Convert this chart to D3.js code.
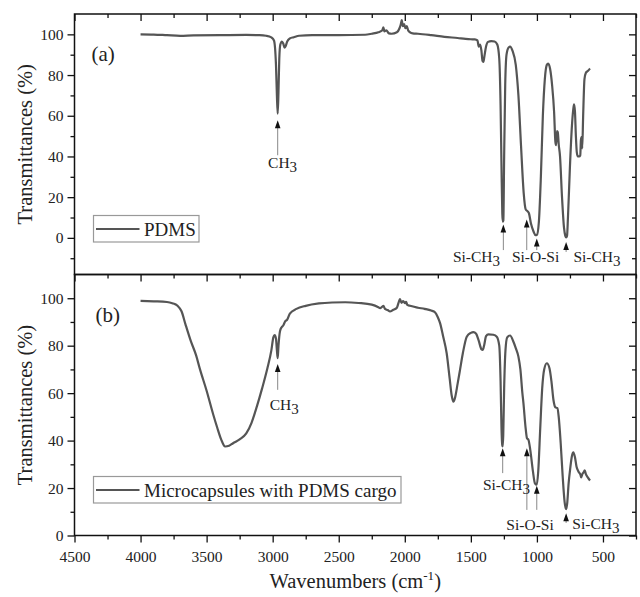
<!DOCTYPE html>
<html>
<head>
<meta charset="utf-8">
<script src="https://cdn.jsdelivr.net/npm/d3@7"></script>
<style>
  html, body { margin: 0; padding: 0; background: #fff; }
  svg { display: block; font-family: "Liberation Serif", "Times New Roman", serif; }
</style>
</head>
<body>
<svg id="chart" width="640" height="597"></svg>
<script>
// ---- FTIR spectrum data (wavenumber in cm^-1, transmittance in %) ----
const pdmsWave = [4000,3900,3800,3700,3600,3400,3200,3100,3050,3010,2990,2975,2968,2962,2956,2950,2942,2930,2920,2910,2903,2890,2870,2840,2800,2700,2500,2300,2250,2200,2170,2162,2155,2140,2120,2100,2060,2040,2030,2023,2015,2005,1995,1985,1975,1960,1940,1900,1800,1700,1600,1540,1500,1470,1450,1440,1430,1420,1412,1405,1398,1385,1370,1345,1320,1300,1285,1275,1268,1262,1258,1254,1248,1240,1230,1215,1203,1185,1160,1140,1120,1100,1085,1070,1060,1045,1025,1010,1000,985,970,955,940,925,915,900,885,870,860,855,848,842,835,825,810,795,785,779,772,765,750,735,725,719,712,705,698,690,680,672,667,662,657,650,640,630,615,598];
const pdmsT = [100,99.9,99.6,99.3,99.5,99.6,99.7,99.6,99.3,98.5,97,85,70,61,72,88,95,96.5,95.5,93.5,94,96.5,98,98.6,99.3,99.6,99.6,99.8,100.3,101,102,103.5,101.5,102,100.5,100.3,101,103,105,107,104,105,103,104,102,101,100.5,100.3,99.6,98.8,98.2,97.8,97.6,97.5,97,94,95,92,87,86.5,89,94,96.3,96.7,96.5,95,88,65,35,12,8,8.5,40,75,90,93.5,94,92,85,70,45,22,14,13,12,7,3,1.3,1.5,8,30,60,78,85,85.6,83,75,62,47,45.5,52.5,52,46,40,20,5,1,0.2,1,10,35,55,63,65.6,62,50,42,40,40,40.5,48,49.5,44,60,78,81,82,83.2];

const capsWave = [4000,3900,3800,3760,3720,3690,3660,3620,3580,3550,3500,3450,3420,3390,3360,3330,3300,3250,3200,3160,3120,3080,3040,3010,2995,2985,2975,2968,2962,2956,2945,2932,2920,2906,2890,2870,2820,2750,2650,2550,2450,2350,2250,2200,2187,2170,2162,2150,2130,2112,2090,2060,2045,2036,2025,2012,1998,1990,1981,1960,1900,1850,1800,1770,1750,1733,1710,1683,1660,1645,1632,1620,1600,1582,1560,1531,1500,1481,1460,1440,1420,1410,1400,1385,1367,1330,1304,1285,1275,1268,1262,1259,1255,1248,1238,1225,1203,1180,1160,1140,1125,1110,1102,1085,1075,1064,1050,1030,1015,1001,990,975,960,945,925,905,890,875,860,845,835,820,805,790,779,770,760,749,735,724,712,700,686,670,665,655,648,638,630,615,598];
const capsT = [98.9,98.7,98.4,97.9,96.8,94.5,89,82,76,70,61,51,45.5,40.5,37.5,37.8,38.9,40.5,43,47.5,54.3,62,70.5,78,83.5,84.5,83,78,74.7,80,86,87.8,88.5,90.2,91,93.5,95.5,96.8,97.8,98.2,98.3,98,97.3,96.2,95.8,96.5,96.8,95.5,95,94.4,95,96,98.5,99.6,98,98.8,97.9,98.5,97.2,96.8,96,95.5,94.8,94,92,89.5,84,76.8,66,59,56.4,58,64,69.8,77,83.8,85.4,85.7,85,82,78.5,78.2,80,84,84.8,84.6,83.8,80,65,45,38,37.5,42,62,78,83.5,84.3,82,79,75.4,70,60,55.8,45,41,40.3,36,27,22,21.4,27,45,62,70,72.6,70.5,65,57.2,54,53.7,50,38.9,25,14,11.1,14,22,27.7,33.5,35,33,29,27,25.5,24.5,26,26.5,27.5,26,24.5,23.2];

// ---- axis ticks ----
const xTicks = [4500,4000,3500,3000,2500,2000,1500,1000,500];
const xMinorTicks = [4250,3750,3250,2750,2250,1750,1250,750,250];
const yTicksTop = [0,20,40,60,80,100];
const yMinorTop = [-10,10,30,50,70,90];
const yTicksBottom = [0,20,40,60,80,100];
const yMinorBottom = [10,30,50,70,90];

// ---- band assignments: arrow at wavenumber from tip to tail (in %) ----
const arrowsTop = [
  {wn: 2962, tip: 57.8, tail: 40.6},
  {wn: 1254, tip: 6.6, tail: -6},
  {wn: 1077, tip: 9, tail: -6},
  {wn: 1001, tip: -0.3, tail: -6},
  {wn: 779, tip: -2, tail: -6.9}
];
const labelsTop = [
  {text: "CH", sub: "3", wn: 2925, t: 34.2, anchor: "middle"},
  {text: "Si-CH", sub: "3", wn: 1279, t: -11.8, anchor: "end"},
  {text: "Si-O-Si", sub: "", wn: 1010, t: -11.8, anchor: "middle"},
  {text: "Si-CH", sub: "3", wn: 724, t: -11.8, anchor: "start"}
];
const arrowsBottom = [
  {wn: 2962, tip: 72.3, tail: 61.4},
  {wn: 1259, tip: 36.8, tail: 26.3},
  {wn: 1076, tip: 36.8, tail: 10.8},
  {wn: 1001, tip: 21, tail: 10.8},
  {wn: 779, tip: 9.4, tail: 5.3}
];
const labelsBottom = [
  {text: "CH", sub: "3", wn: 2912, t: 53, anchor: "middle"},
  {text: "Si-CH", sub: "3", wn: 1052, t: 19.1, anchor: "end"},
  {text: "Si-O-Si", sub: "", wn: 1052, t: 2.4, anchor: "middle"},
  {text: "Si-CH", sub: "3", wn: 732, t: 2.7, anchor: "start"}
];

const svg = d3.select("#chart");
const left = 74.5, right = 636;
const x = d3.scaleLinear().domain([4500, 250]).range([left, right]);

const lineColor = "#555";
const font = "'Liberation Serif', 'Times New Roman', serif";

function drawPanel(opts) {
  const y = d3.scaleLinear().domain(opts.yDomain).range([opts.bottom, opts.top]);
  const g = svg.append("g");

  // spectrum
  const pts = opts.wave.map((w, i) => [w, opts.values[i]]);
  g.append("path")
    .datum(pts)
    .attr("fill", "none")
    .attr("stroke", lineColor)
    .attr("stroke-width", 2.2)
    .attr("stroke-linejoin", "round")
    .attr("d", d3.line().x(d => x(d[0])).y(d => y(d[1])).curve(d3.curveMonotoneX));

  // left axis (outward ticks with labels)
  const yAxisL = d3.axisLeft(y).tickValues(opts.yTicks).tickSize(7).tickPadding(4).tickFormat(d3.format("d"));
  const gl = g.append("g").attr("transform", `translate(${left},0)`).call(yAxisL);
  g.append("g").attr("transform", `translate(${left},0)`)
    .call(d3.axisLeft(y).tickValues(opts.yMinor).tickSize(4).tickFormat(""));

  // right axis (inward ticks)
  g.append("g").attr("transform", `translate(${right},0)`)
    .call(d3.axisRight(y).tickValues(opts.yTicks).tickSize(-7).tickFormat(""));
  g.append("g").attr("transform", `translate(${right},0)`)
    .call(d3.axisRight(y).tickValues(opts.yMinor).tickSize(-4).tickFormat(""));

  // top axis (inward ticks)
  g.append("g").attr("transform", `translate(0,${opts.top})`)
    .call(d3.axisTop(x).tickValues(xTicks).tickSize(-7).tickFormat(""));
  g.append("g").attr("transform", `translate(0,${opts.top})`)
    .call(d3.axisTop(x).tickValues(xMinorTicks).tickSize(-4).tickFormat(""));

  if (opts.bottomAxis) {
    g.append("g").attr("transform", `translate(0,${opts.bottom})`)
      .call(d3.axisBottom(x).tickValues(xTicks).tickSize(7).tickPadding(8).tickFormat(d3.format("d")));
    g.append("g").attr("transform", `translate(0,${opts.bottom})`)
      .call(d3.axisBottom(x).tickValues(xMinorTicks).tickSize(4).tickFormat(""));
  }

  g.selectAll(".domain").remove();
  g.selectAll(".tick line").attr("stroke", "#111").attr("stroke-width", 1.3);
  g.selectAll(".tick text").attr("font-family", font).attr("font-size", 15.5).attr("fill", "#222");

  // frame
  g.append("rect")
    .attr("x", left).attr("y", opts.top)
    .attr("width", right - left).attr("height", opts.bottom - opts.top)
    .attr("fill", "none").attr("stroke", "#111").attr("stroke-width", 1.5);

  // y title
  g.append("text")
    .attr("transform", `translate(32,${(opts.top + opts.bottom) / 2}) rotate(-90)`)
    .attr("text-anchor", "middle")
    .attr("font-family", font).attr("font-size", 20.5).attr("fill", "#222")
    .text("Transmittances (%)");

  // panel tag
  g.append("text")
    .attr("x", opts.tagX).attr("y", opts.top + 47)
    .attr("font-family", font).attr("font-size", 21).attr("fill", "#222")
    .text(opts.tag);

  // arrows
  opts.arrows.forEach(a => {
    const ax = x(a.wn), ty = y(a.tip), tl = y(a.tail);
    g.append("line")
      .attr("x1", ax).attr("x2", ax).attr("y1", ty + 6).attr("y2", tl)
      .attr("stroke", "#888").attr("stroke-width", 1);
    g.append("path")
      .attr("d", `M${ax},${ty} L${ax - 2.8},${ty + 8} L${ax + 2.8},${ty + 8} Z`)
      .attr("fill", "#111");
  });

  // labels
  opts.labels.forEach(l => {
    const t = g.append("text")
      .attr("x", x(l.wn)).attr("y", y(l.t))
      .attr("text-anchor", l.anchor)
      .attr("font-family", font).attr("font-size", 15.5).attr("fill", "#222");
    t.append("tspan").text(l.text);
    if (l.sub) t.append("tspan").attr("dy", 4).attr("font-size", 15).text(l.sub);
  });

  // legend
  const lg = g.append("g");
  lg.append("rect")
    .attr("x", 93.5).attr("y", opts.legendY)
    .attr("width", opts.legendW).attr("height", 26.5)
    .attr("fill", "#fff").attr("stroke", "#999").attr("stroke-width", 1.2);
  lg.append("line")
    .attr("x1", 96).attr("x2", 139.5)
    .attr("y1", opts.legendY + 13.5).attr("y2", opts.legendY + 13.5)
    .attr("stroke", lineColor).attr("stroke-width", 2.2);
  lg.append("text")
    .attr("x", 144).attr("y", opts.legendY + 20)
    .attr("font-family", font).attr("font-size", 19).attr("fill", "#222")
    .text(opts.legend);
}

drawPanel({
  top: 14, bottom: 274.5, yDomain: [-18, 110],
  wave: pdmsWave, values: pdmsT,
  yTicks: yTicksTop, yMinor: yMinorTop,
  bottomAxis: false, tag: "(a)", tagX: 91.5,
  arrows: arrowsTop, labels: labelsTop,
  legend: "PDMS", legendY: 215.5, legendW: 105.5
});

drawPanel({
  top: 274.5, bottom: 535.5, yDomain: [0, 110],
  wave: capsWave, values: capsT,
  yTicks: yTicksBottom, yMinor: yMinorBottom,
  bottomAxis: true, tag: "(b)", tagX: 95.5,
  arrows: arrowsBottom, labels: labelsBottom,
  legend: "Microcapsules with PDMS cargo", legendY: 476.5, legendW: 307.5
});

// x title
const xt = svg.append("text")
  .attr("x", (left + right) / 2).attr("y", 588)
  .attr("text-anchor", "middle")
  .attr("font-family", font).attr("font-size", 20.5).attr("fill", "#222");
xt.append("tspan").text("Wavenumbers (cm");
xt.append("tspan").attr("dy", -8).attr("font-size", 13).text("-1");
xt.append("tspan").attr("dy", 8).text(")");
</script>
</body>
</html>
